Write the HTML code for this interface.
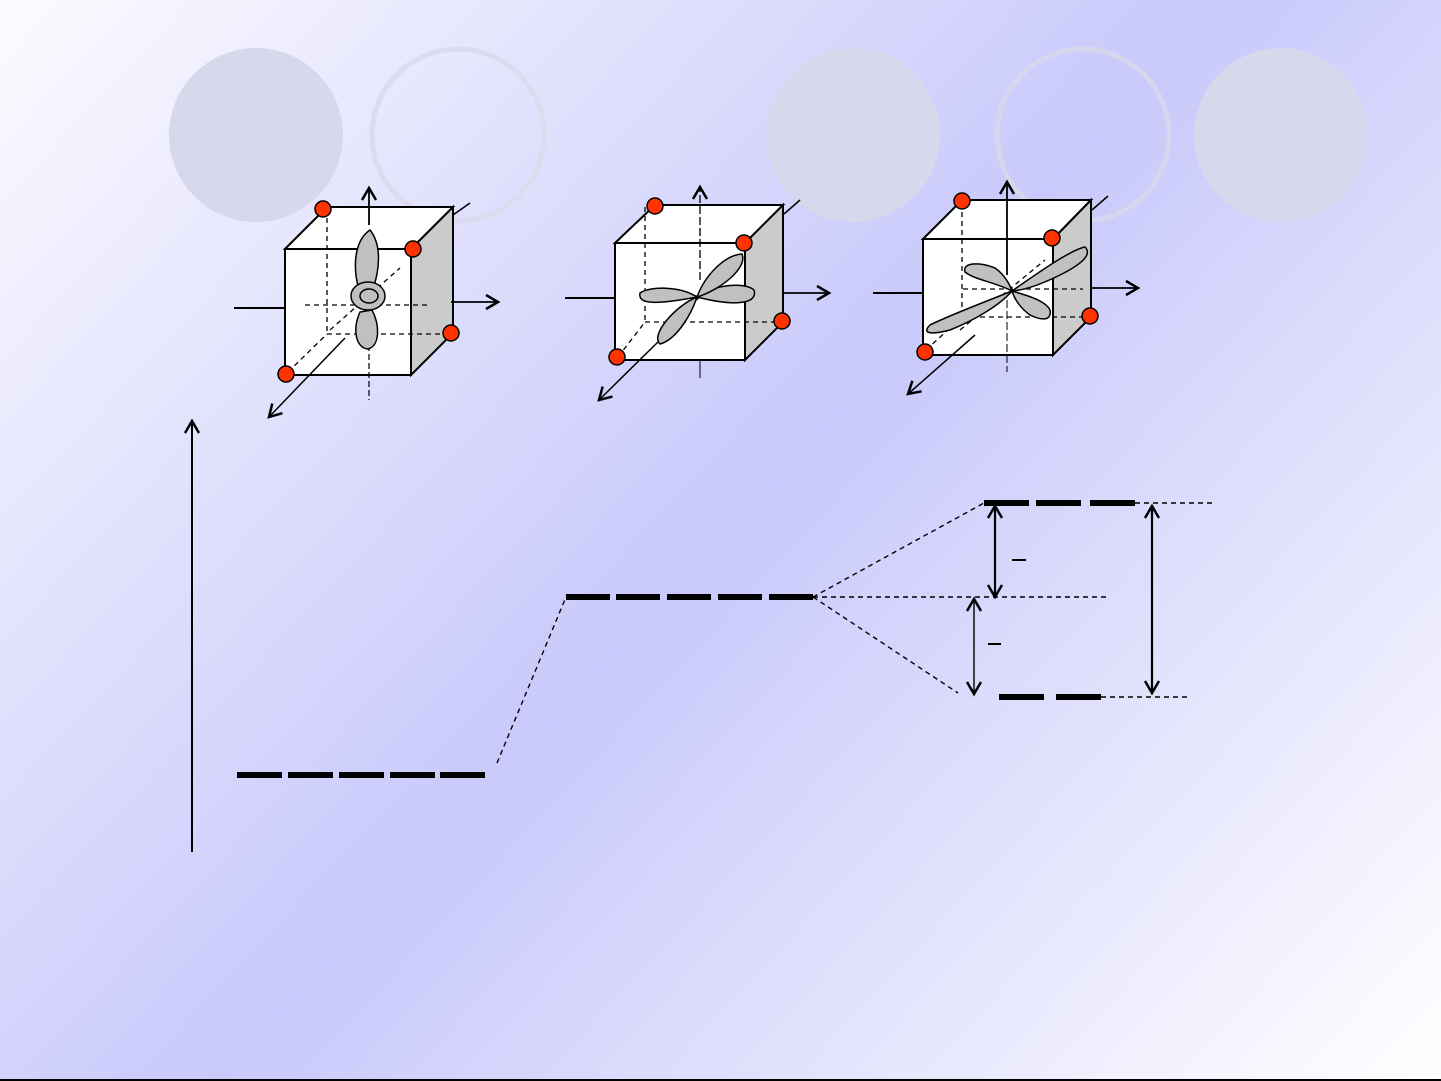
<!DOCTYPE html>
<html><head><meta charset="utf-8"><style>
html,body{margin:0;padding:0;}
body{width:1441px;height:1081px;overflow:hidden;background:linear-gradient(133deg,#fbfbff 0%,#c9c9fb 50%,#ffffff 100%);font-family:"Liberation Sans",sans-serif;}
svg{position:absolute;left:0;top:0;}
</style></head><body>
<svg width="1441" height="1081" viewBox="0 0 1441 1081">
<defs>
<marker id="ah" markerWidth="18" markerHeight="18" refX="15" refY="9" orient="auto" markerUnits="userSpaceOnUse">
<path d="M3,2 L15,9 L3,16" fill="none" stroke="#000" stroke-width="2.5"/>
</marker>
</defs>
<circle cx="256" cy="135" r="87" fill="#d8d8ec"/>
<circle cx="458" cy="135" r="86" fill="none" stroke="#dcdcee" stroke-width="5"/>
<circle cx="853" cy="135" r="87" fill="#d8d8ec"/>
<circle cx="1083" cy="135" r="86" fill="none" stroke="#d6d6ee" stroke-width="5"/>
<circle cx="1281" cy="135" r="87" fill="#d8d8ec"/>

<g stroke="#000" fill="none">
<!-- Cube 1 -->
<line x1="234" y1="308" x2="285" y2="308" stroke-width="2"/>
<line x1="453" y1="215" x2="470" y2="203" stroke-width="1.5"/>
<polygon points="285,249 327,207 453,207 411,249" fill="#fff" stroke-width="2"/>
<polygon points="411,249 453,207 453,333 411,375" fill="#cbcbcb" stroke-width="2"/>
<rect x="285" y="249" width="126" height="126" fill="#fff" stroke-width="2"/>
<g stroke-dasharray="5,4" stroke-width="1.3">
<line x1="327" y1="209" x2="327" y2="334"/>
<line x1="327" y1="334" x2="451" y2="334"/>
<line x1="305" y1="305" x2="430" y2="305"/>
<line x1="288" y1="372" x2="327" y2="334"/>
<line x1="330" y1="330" x2="400" y2="268"/>
</g>
<line x1="369" y1="225" x2="369" y2="188" stroke-width="1.8" marker-end="url(#ah)"/>
<line x1="369" y1="345" x2="369" y2="400" stroke-width="1.2" stroke-dasharray="6,3"/>
<line x1="451" y1="302" x2="498" y2="302" stroke-width="1.8" marker-end="url(#ah)"/>
<line x1="345" y1="338" x2="269" y2="417" stroke-width="1.5" marker-end="url(#ah)"/>
<path d="M359,290 C352,265 355,240 370,230 C382,245 380,270 372,292 Z" fill="#c0c0c0" stroke-width="1.5"/>
<path d="M360,312 C352,330 356,348 368,349 C380,346 380,325 372,310 Z" fill="#c0c0c0" stroke-width="1.5"/>
<ellipse cx="368" cy="296" rx="17" ry="14" fill="#c0c0c0" stroke-width="1.5"/>
<ellipse cx="369" cy="296" rx="9" ry="7" fill="#c0c0c0" stroke-width="1.5"/>

<!-- Cube 2 -->
<line x1="565" y1="298" x2="615" y2="298" stroke-width="2"/>
<line x1="784" y1="214" x2="800" y2="200" stroke-width="1.5"/>
<polygon points="615,243 655,205 783,205 745,243" fill="#fff" stroke-width="2"/>
<polygon points="745,243 783,205 783,322 745,360" fill="#cbcbcb" stroke-width="2"/>
<rect x="615" y="243" width="130" height="117" fill="#fff" stroke-width="2"/>
<g stroke-dasharray="5,4" stroke-width="1.3">
<line x1="645" y1="207" x2="645" y2="322"/>
<line x1="645" y1="322" x2="782" y2="322"/>
<line x1="640" y1="296" x2="735" y2="296"/>
<line x1="618" y1="357" x2="645" y2="322"/>
<line x1="660" y1="340" x2="735" y2="258"/>
</g>
<line x1="700" y1="280" x2="700" y2="187" stroke-width="1.3" stroke-dasharray="8,3" marker-end="url(#ah)"/>
<line x1="700" y1="360" x2="700" y2="378" stroke-width="1"/>
<line x1="782" y1="293" x2="829" y2="293" stroke-width="1.8" marker-end="url(#ah)"/>
<line x1="660" y1="340" x2="599" y2="400" stroke-width="1.5" marker-end="url(#ah)"/>
<path d="M697,297 C680,286 650,286 640,293 C638,303 650,306 697,297 Z" fill="#c0c0c0" stroke-width="1.5"/>
<path d="M697,297 C715,284 745,282 754,290 C758,302 740,308 697,297 Z" fill="#c0c0c0" stroke-width="1.5"/>
<path d="M697,297 C705,275 725,255 742,254 C748,268 720,290 697,297 Z" fill="#c0c0c0" stroke-width="1.5"/>
<path d="M697,297 C690,318 675,340 660,344 C650,335 675,306 697,297 Z" fill="#c0c0c0" stroke-width="1.5"/>

<!-- Cube 3 -->
<line x1="873" y1="293" x2="923" y2="293" stroke-width="2"/>
<line x1="1092" y1="210" x2="1108" y2="196" stroke-width="1.5"/>
<polygon points="923,239 962,200 1091,200 1053,239" fill="#fff" stroke-width="2"/>
<polygon points="1053,239 1091,200 1091,317 1053,355" fill="#cbcbcb" stroke-width="2"/>
<rect x="923" y="239" width="130" height="116" fill="#fff" stroke-width="2"/>
<g stroke-dasharray="5,4" stroke-width="1.3">
<line x1="962" y1="203" x2="962" y2="317"/>
<line x1="962" y1="317" x2="1089" y2="317"/>
<line x1="963" y1="289" x2="1083" y2="289"/>
<line x1="926" y1="350" x2="962" y2="317"/>
<line x1="960" y1="330" x2="1045" y2="260"/>
</g>
<line x1="1007" y1="275" x2="1007" y2="182" stroke-width="1.8" marker-end="url(#ah)"/>
<line x1="1007" y1="300" x2="1007" y2="372" stroke-width="1" stroke-dasharray="8,3"/>
<line x1="1090" y1="288" x2="1138" y2="288" stroke-width="1.8" marker-end="url(#ah)"/>
<line x1="975" y1="335" x2="908" y2="394" stroke-width="1.5" marker-end="url(#ah)"/>
<path d="M1012,291 C990,300 950,315 930,325 C920,335 935,334 950,330 C975,320 1000,305 1012,291 Z" fill="#c0c0c0" stroke-width="1.5"/>
<path d="M1012,291 C1035,275 1070,250 1085,247 C1093,255 1080,265 1060,275 C1040,285 1025,290 1012,291 Z" fill="#c0c0c0" stroke-width="1.5"/>
<path d="M1012,291 C995,282 975,280 965,272 C962,262 980,262 995,268 C1005,275 1010,285 1012,291 Z" fill="#c0c0c0" stroke-width="1.5"/>
<path d="M1012,291 C1025,295 1045,300 1050,310 C1052,322 1040,320 1030,315 C1020,308 1014,298 1012,291 Z" fill="#c0c0c0" stroke-width="1.5"/>
</g>

<g fill="#ff3300" stroke="#000" stroke-width="1.5">
<circle cx="323" cy="209" r="8"/><circle cx="413" cy="249" r="8"/><circle cx="451" cy="333" r="8"/><circle cx="286" cy="374" r="8"/>
<circle cx="655" cy="206" r="8"/><circle cx="744" cy="243" r="8"/><circle cx="782" cy="321" r="8"/><circle cx="617" cy="357" r="8"/>
<circle cx="962" cy="201" r="8"/><circle cx="1052" cy="238" r="8"/><circle cx="1090" cy="316" r="8"/><circle cx="925" cy="352" r="8"/>
</g>

<g stroke="#000" fill="none">
<line x1="192" y1="852" x2="192" y2="421" stroke-width="2" marker-end="url(#ah)"/>
<g stroke-width="6">
<line x1="237" y1="775" x2="282" y2="775"/><line x1="288" y1="775" x2="333" y2="775"/><line x1="339" y1="775" x2="384" y2="775"/><line x1="390" y1="775" x2="435" y2="775"/><line x1="440" y1="775" x2="485" y2="775"/>
<line x1="566" y1="597" x2="610" y2="597"/><line x1="616" y1="597" x2="660" y2="597"/><line x1="667" y1="597" x2="711" y2="597"/><line x1="718" y1="597" x2="762" y2="597"/><line x1="769" y1="597" x2="813" y2="597"/>
<line x1="984" y1="503" x2="1029" y2="503"/><line x1="1036" y1="503" x2="1081" y2="503"/><line x1="1090" y1="503" x2="1135" y2="503"/>
<line x1="999" y1="697" x2="1044" y2="697"/><line x1="1056" y1="697" x2="1101" y2="697"/>
</g>
<g stroke-width="1.4" stroke-dasharray="5,4">
<line x1="497" y1="763" x2="566" y2="597"/>
<line x1="813" y1="597" x2="984" y2="503"/>
<line x1="813" y1="597" x2="958" y2="693"/>
<line x1="813" y1="597" x2="1107" y2="597"/>
<line x1="1135" y1="503" x2="1215" y2="503"/>
<line x1="1101" y1="697" x2="1187" y2="697"/>
</g>
<g stroke-width="2.2">
<line x1="995" y1="540" x2="995" y2="506" marker-end="url(#ah)"/>
<line x1="995" y1="540" x2="995" y2="597" marker-end="url(#ah)"/>
<line x1="1152" y1="600" x2="1152" y2="506" marker-end="url(#ah)"/>
<line x1="1152" y1="600" x2="1152" y2="693" marker-end="url(#ah)"/>
</g>
<g stroke-width="1.4">
<line x1="974" y1="640" x2="974" y2="599" marker-end="url(#ah)"/>
<line x1="974" y1="640" x2="974" y2="694" marker-end="url(#ah)"/>
</g>
<line x1="1012" y1="560" x2="1026" y2="560" stroke-width="2"/>
<line x1="988" y1="644" x2="1001" y2="644" stroke-width="2"/>
<line x1="0" y1="1080" x2="1441" y2="1080" stroke-width="2"/>
</g>
</svg>
</body></html>
